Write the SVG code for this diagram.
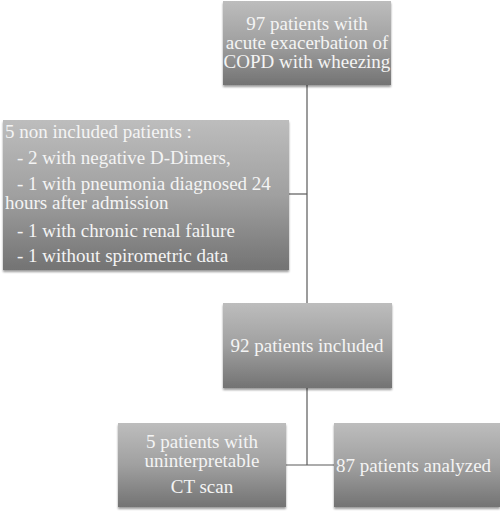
<svg xmlns="http://www.w3.org/2000/svg" width="500" height="517" viewBox="0 0 500 517">
<style>
.box{fill:url(#g);filter:url(#sh)}
.t{font-family:"Liberation Serif",serif;font-size:19px;fill:#f4f4f4}
.c{text-anchor:middle}
.ln{stroke:#5a5a5a;stroke-width:1.2;fill:none}
</style>
<defs>
<linearGradient id="g" x1="0" y1="0" x2="0" y2="1">
<stop offset="0" stop-color="#bdbdbd"/>
<stop offset="0.5" stop-color="#a0a0a0"/>
<stop offset="1" stop-color="#737373"/>
</linearGradient>
<filter id="sh" x="-5%" y="-5%" width="110%" height="115%">
<feGaussianBlur in="SourceAlpha" stdDeviation="1.2"/>
<feOffset dx="0" dy="1.5" result="b"/>
<feComponentTransfer><feFuncA type="linear" slope="0.4"/></feComponentTransfer>
<feMerge><feMergeNode/><feMergeNode in="SourceGraphic"/></feMerge>
</filter>
</defs>
<g id="connectors">
<line class="ln" x1="307" y1="85" x2="307" y2="303"/>
<line class="ln" x1="289" y1="194" x2="307" y2="194"/>
<line class="ln" x1="307" y1="388" x2="307" y2="465"/>
<line class="ln" x1="286" y1="465" x2="334" y2="465"/>
</g>
<g id="n1">
<rect class="box" x="223" y="1" width="168" height="84"/>
<text class="t c" x="307" y="30">97 patients with</text>
<text class="t c" x="307" y="49">acute exacerbation of</text>
<text class="t c" x="307" y="68">COPD with wheezing</text>
</g>
<g id="n2">
<rect class="box" x="3" y="120" width="286" height="150"/>
<text class="t" x="5" y="138">5 non included patients :</text>
<text class="t" x="17" y="164">- 2 with negative D-Dimers,</text>
<text class="t" x="17" y="190">- 1 with pneumonia diagnosed 24</text>
<text class="t" x="5" y="209">hours after admission</text>
<text class="t" x="17" y="237">- 1 with chronic renal failure</text>
<text class="t" x="17" y="262">- 1 without spirometric data</text>
</g>
<g id="n3">
<rect class="box" x="223" y="303" width="169" height="85"/>
<text class="t c" x="307" y="352">92 patients included</text>
</g>
<g id="n4">
<rect class="box" x="118" y="423" width="168" height="84"/>
<text class="t c" x="202" y="448">5 patients with</text>
<text class="t c" x="202" y="467">uninterpretable</text>
<text class="t c" x="202" y="493">CT scan</text>
</g>
<g id="n5">
<rect class="box" x="334" y="423" width="166" height="84"/>
<text class="t" x="336" y="472">87 patients analyzed</text>
</g>
</svg>
